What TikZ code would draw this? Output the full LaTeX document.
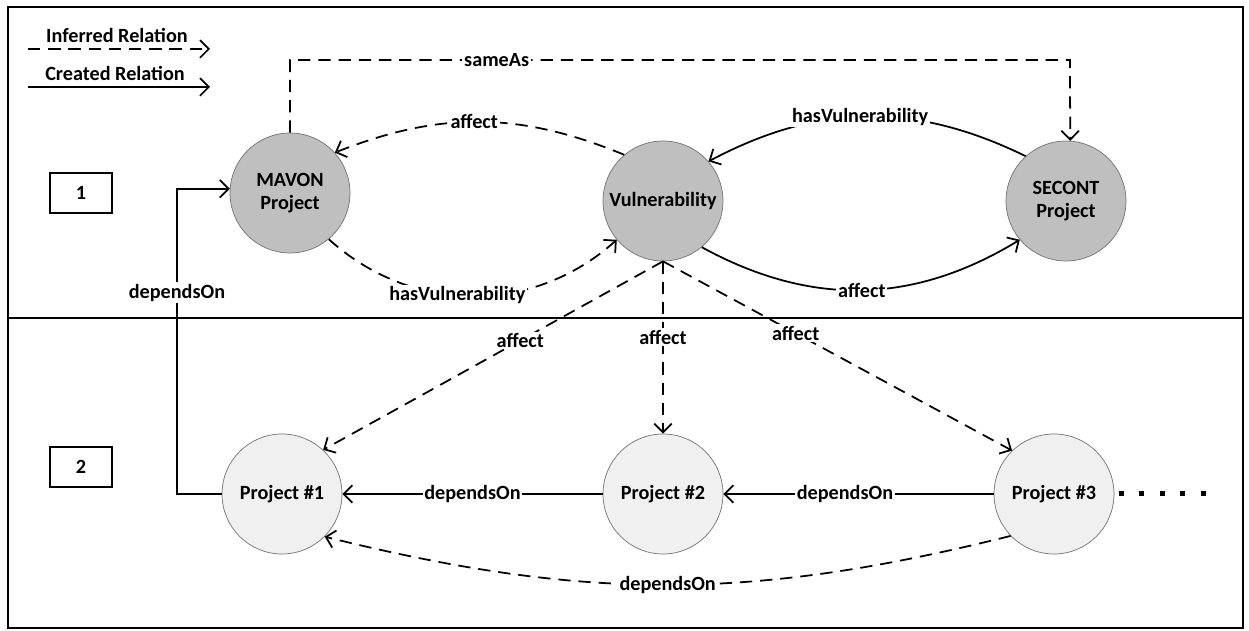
\documentclass[tikz,border=0pt]{standalone}
\usepackage{fontspec}
\setmainfont{Carlito}
\usetikzlibrary{arrows.meta}

\begin{document}
\begin{tikzpicture}[
  x=0.02cm, y=-0.02cm,
  font=\bfseries\fontsize{11.5}{13}\selectfont,
  >={Straight Barb[length=5pt,width=10pt]},
  created/.style={->, line width=1pt},
  inferred/.style={->, line width=1pt, dash pattern=on 7pt off 4.5pt},
  lbl/.style={fill=white, inner sep=1pt},
  topnode/.style={circle, draw=black!55, fill=black!25, minimum size=2.4cm, inner sep=0pt, align=center},
  botnode/.style={circle, draw=black!55, fill=black!6, minimum size=2.4cm, inner sep=0pt},
  numbox/.style={draw, line width=1.3pt, minimum width=1.24cm, minimum height=0.8cm}
  ]
  \useasboundingbox (0,0) rectangle (1249,631);
  % 外框与分隔线
  \draw[line width=1.4pt] (8,7) rectangle (1243,628);
  \draw[line width=1.4pt] (8,318) -- (1243,318);

  % 图例
  \coordinate (infA) at (28,49);
  \coordinate (infB) at (210,49);
  \coordinate (creA) at (28,87);
  \coordinate (creB) at (210,87);
  \node (inflbl) at (117,35) {Inferred Relation};
  \node (crelbl) at (115,73) {Created Relation};
  \draw[inferred] (infA) -- (infB);
  \draw[created] (creA) -- (creB);

  % 区域编号
  \node[numbox] (box1) at (81,193) {1};
  \node[numbox] (box2) at (81,467) {2};

  % 上层节点
  \node[topnode] (mavon) at (290,193) {MAVON\\Project};
  \node[topnode] (vuln) at (663,201) {Vulnerability};
  \node[topnode] (secont) at (1066,201) {SECONT\\Project};

  % 下层节点
  \node[botnode] (p1) at (282,494) {Project \#1};
  \node[botnode] (p2) at (663,494) {Project \#2};
  \node[botnode] (p3) at (1054,494) {Project \#3};
  \foreach \i in {0,...,4}
    \fill (1121+20.5*\i-2.5,491.5) rectangle ++(5,5);

  % sameAs
  \coordinate (sameL) at (290,60);
  \coordinate (sameR) at (1070,60);
  \draw[inferred] (mavon.north) -- (sameL) -- node[lbl, pos=0.265] {sameAs} (sameR) -- (secont.86);

  % 上层关系
  \draw[inferred] (vuln.130) to[bend right=22] node[lbl, pos=0.52] {affect} (mavon.42);
  \draw[created] (secont.132) to[bend right=27] node[lbl, pos=0.52] {hasVulnerability} (vuln.41);
  \draw[inferred] (mavon.-50) to[bend right=42] node[lbl, pos=0.45] {hasVulnerability} (vuln.220);
  \draw[created] (vuln.-50) to[bend right=30] node[lbl] {affect} (secont.220);

  % 跨层 affect
  \draw[inferred] (vuln.south) -- node[lbl, pos=0.42] {affect} (p1.47);
  \draw[inferred] (vuln.south) -- node[lbl, pos=0.44] {affect} (p2.north);
  \draw[inferred] (vuln.south) -- node[lbl, pos=0.38] {affect} (p3.134);

  % 下层 dependsOn
  \draw[created] (p2.west) -- node[lbl] {dependsOn} (p1.east);
  \draw[created] (p3.west) -- node[lbl, pos=0.55] {dependsOn} (p2.east);
  \draw[inferred] (p3.224) to[bend left=14] node[lbl] {dependsOn} (p1.-45);

  % Project #1 -> MAVON
  \coordinate (depL) at (177,494);
  \draw[created] (p1.west) -- (depL) |- node[lbl, pos=0.33] {dependsOn} (mavon.176);
\end{tikzpicture}
\end{document}
